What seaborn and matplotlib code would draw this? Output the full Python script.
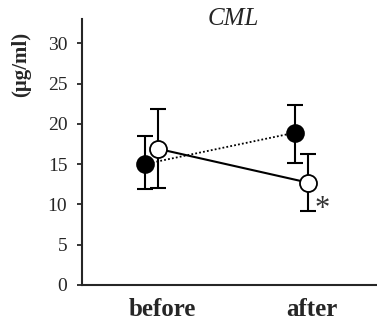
import matplotlib
matplotlib.use("Agg")
import matplotlib.pyplot as plt
import seaborn as sns
import numpy as np
import pandas as pd

categories = ["before", "after"]
filled_mean = [15.0, 18.9]
filled_upper = [18.5, 22.4]
filled_lower = [11.9, 15.2]
open_mean = [16.9, 12.7]
open_upper = [21.9, 16.3]
open_lower = [12.1, 9.2]
yticks = [0, 5, 10, 15, 20, 25, 30]

sns.set_style("ticks")
plt.rcParams['font.family'] = ['Liberation Serif', 'DejaVu Serif']

fig = plt.figure(figsize=(3.77, 3.24), dpi=100)
ax = fig.add_axes([0.2175, 0.1204, 0.7825, 0.8206])

base = np.arange(len(categories))
x_filled = base - 0.115
x_open = base - 0.025

df_f = pd.DataFrame({"x": x_filled, "y": filled_mean})
df_o = pd.DataFrame({"x": x_open, "y": open_mean})

sns.lineplot(data=df_f, x="x", y="y", ax=ax, color="black", lw=1.3,
             linestyle=(0, (1, 1.2)), zorder=2)
sns.lineplot(data=df_o, x="x", y="y", ax=ax, color="black", lw=1.5, zorder=2)

fm = np.array(filled_mean)
om = np.array(open_mean)
ax.errorbar(x_filled, fm, yerr=[fm - np.array(filled_lower), np.array(filled_upper) - fm],
            fmt="none", ecolor="black", elinewidth=1.5, capsize=5.5, capthick=1.5, zorder=3)
ax.errorbar(x_open, om, yerr=[om - np.array(open_lower), np.array(open_upper) - om],
            fmt="none", ecolor="black", elinewidth=1.5, capsize=5.5, capthick=1.5, zorder=3)

sns.scatterplot(data=df_f, x="x", y="y", ax=ax, s=150, color="black",
                edgecolor="black", linewidth=1.2, zorder=4)
sns.scatterplot(data=df_o, x="x", y="y", ax=ax, s=150, color="white",
                edgecolor="black", linewidth=1.3, zorder=4)

ax.text(x_open[1] + 0.095, open_lower[1] + 0.2, "*", fontsize=22, color="#333333",
        ha="center", va="center")

ax.set_xlim(-0.533, 1.433)
ax.set_ylim(0, 33)
ax.set_yticks(yticks)
ax.set_yticklabels([str(t) for t in yticks], fontsize=14)
ax.set_xticks(base)
ax.set_xticklabels(categories, fontsize=18, fontweight="bold")
ax.tick_params(axis="x", length=0, pad=9.5)
ax.tick_params(axis="y", length=3.6, width=1.3, pad=7)
ax.set_xlabel("")
ax.set_ylabel("")
for s in ["top", "right"]:
    ax.spines[s].set_visible(False)
for s in ["left", "bottom"]:
    ax.spines[s].set_linewidth(1.5)

fig.text(0.055, 0.80, "(μg/ml)", rotation=90, fontsize=15, fontweight="bold",
         ha="center", va="center")
fig.text(0.618, 0.941, "CML", fontsize=18, fontstyle="italic", ha="center", va="center")

fig.savefig("out.png", dpi=100)
